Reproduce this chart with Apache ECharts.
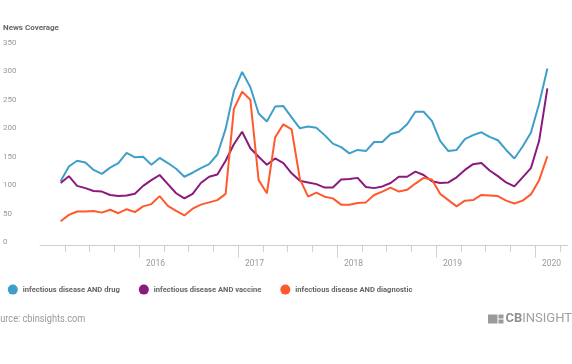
<!DOCTYPE html>
<html>
<head>
<meta charset="utf-8">
<script src="https://cdn.jsdelivr.net/npm/echarts@6/dist/echarts.min.js"></script>
<style>html,body{margin:0;padding:0;background:#fff}#c{width:572px;height:364px}</style>
</head>
<body>
<div id="c"></div>
<script>
// Monthly observations, March 2015 .. February 2020
const firstMonth = '2015-03';
const drug = [113,139,149,146,133,126,137,145,163,155,156,142,154,145,135,121,128,136,143,160,205,271,305,278,232,218,244,245,225,206,209,207,194,179,173,162,168,166,182,182,196,200,213,235,235,219,184,166,168,187,194,199,191,185,168,153,174,198,249,311];
const vaccine = [110,122,105,101,96,95,89,87,88,91,105,115,124,108,92,83,91,110,121,125,149,178,200,171,156,142,153,145,127,114,111,108,102,102,116,117,119,103,101,104,110,121,121,130,124,113,110,111,120,133,143,145,132,122,111,104,120,136,184,276];
const diagnostic = [43,54,60,60,61,58,63,57,64,59,69,73,87,70,61,53,65,72,76,80,91,240,270,256,115,92,190,213,204,117,86,93,86,83,72,72,75,76,89,95,102,95,98,109,119,116,91,80,69,79,80,89,88,87,79,74,79,90,115,157];
const seriesNames = ['infectious disease AND drug','infectious disease AND vaccine','infectious disease AND diagnostic'];
const colors = ['#3f9fc9','#8b1a7f','#ff5a2e'];
const yearLabels = ['2016','2017','2018','2019','2020'];
const axisStartYear = 2015;   // x axis runs Jan 2015 .. end of Apr 2020
const axisMonths = 64;

// month position on the x axis (months since Jan 2015, point at mid-month)
function monthPos(ym, k) {
  const y = +ym.slice(0,4), m = +ym.slice(5,7) - 1;
  return (y - axisStartYear) * 12 + m + k + 0.5;
}
function toData(arr) { return arr.map((v, k) => [monthPos(firstMonth, k), v]); }
const yearTicks = yearLabels.map(y => (+y - axisStartYear) * 12);
const quarterTicks = [];
for (let q = 3; q < axisMonths; q += 3) if (q % 12 !== 0) quarterTicks.push(q);

const chart = echarts.init(document.getElementById('c'), null, {renderer: 'canvas'});
const font = 'Roboto, "Noto Sans", sans-serif';
chart.setOption({
  animation: false,
  backgroundColor: '#fff',
  color: colors,
  grid: {left: 40, right: 4, top: 46.2, bottom: 118.3, containLabel: false},
  legend: {
    left: 2.8, top: 279.6, itemWidth: 10, itemHeight: 10, itemGap: 19, icon: 'circle',
    textStyle: {fontFamily: font, fontSize: 7.6, fontWeight: 'bold', color: '#666'},
    data: seriesNames
  },
  xAxis: [{
    type: 'value', min: 0, max: axisMonths, position: 'bottom',
    axisLine: {show: true, lineStyle: {color: '#cfcfcf', width: 1}},
    axisTick: {show: true, length: 6, lineStyle: {color: '#cfcfcf'}, customValues: quarterTicks},
    axisLabel: {show: false},
    splitLine: {show: false}
  }, {
    type: 'value', min: 0, max: axisMonths, position: 'bottom',
    axisLine: {show: false},
    axisTick: {show: true, length: 12, lineStyle: {color: '#cfcfcf'}, customValues: yearTicks},
    axisLabel: {
      show: true, customValues: yearTicks, margin: 14, align: 'left',
      padding: [0,0,0,7], fontFamily: font, fontSize: 8.5, color: '#999',
      formatter: v => String(axisStartYear + Math.round(v / 12))
    },
    splitLine: {show: false}
  }],
  yAxis: {
    type: 'value', min: 0, max: 350, interval: 50,
    axisLine: {show: false}, axisTick: {show: false}, splitLine: {show: false},
    axisLabel: {align: 'left', verticalAlign: 'bottom', lineHeight: 7, margin: 37,
      showMinLabel: true, showMaxLabel: true, hideOverlap: false,
      fontFamily: font, fontSize: 8, color: '#999'}
  },
  series: [drug, vaccine, diagnostic].map((arr, i) => ({
    name: seriesNames[i], type: 'line', xAxisIndex: 0, data: toData(arr),
    showSymbol: false, symbol: 'circle', symbolSize: 8, smooth: false,
    lineStyle: {width: 2, color: colors[i]}, itemStyle: {color: colors[i]}
  })),
  graphic: [
    {type: 'text', left: 3, top: 23.5, style: {text: 'News Coverage', fontFamily: font, fontSize: 8, fontWeight: 'bold', fill: '#666'}},
    {type: 'text', x: -10.5, y: 313.5, scaleX: 0.8, style: {text: 'Source: cbinsights.com', fontFamily: font, fontSize: 11.5, fill: '#999'}},
    {type: 'rect', shape: {x: 488, y: 314.5, width: 9.5, height: 9}, style: {fill: '#9a9a9a'}},
    {type: 'rect', shape: {x: 498.5, y: 314.5, width: 5, height: 4}, style: {fill: '#9a9a9a'}},
    {type: 'rect', shape: {x: 498.5, y: 319.5, width: 5, height: 4}, style: {fill: '#9a9a9a'}},
    {type: 'text', x: 505.5, y: 312, style: {
      text: '{b|CB}{n|INSIGHTS}',
      rich: {b: {fontFamily: font, fontSize: 13, fontWeight: 'bold', fill: '#8f8f8f', color: '#8f8f8f'},
             n: {fontFamily: font, fontSize: 13, fill: '#a0a0a0', color: '#a0a0a0'}}
    }}
  ]
});
</script>
</body>
</html>
